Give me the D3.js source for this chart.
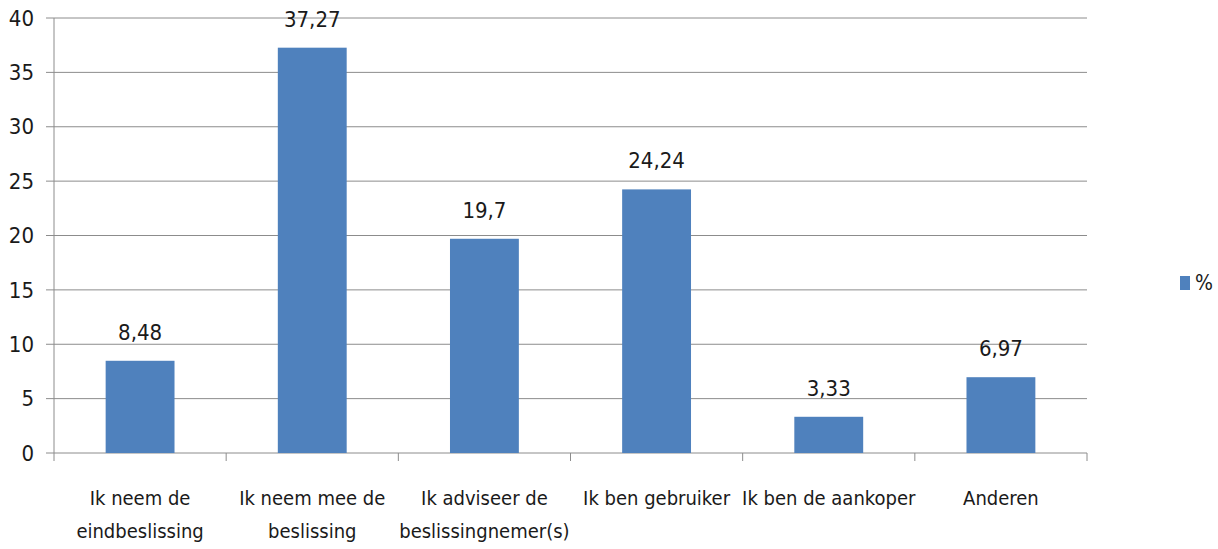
<!DOCTYPE html>
<html>
<head>
<meta charset="utf-8">
<script src="https://cdn.jsdelivr.net/npm/d3@7"></script>
<style>
    body { margin: 0; background: #fff; }
    text { font-family: "Liberation Sans Narrow", "DejaVu Sans Condensed", "Open Sans", sans-serif; fill: #1a1a1a; }
</style>
</head>
<body>
<svg id="chart" width="1218" height="549"></svg>
<script>
// categories, split into the two lines of the axis labels
const categories = [
    ["Ik neem de", "eindbeslissing"],
    ["Ik neem mee de", "beslissing"],
    ["Ik adviseer de", "beslissingnemer(s)"],
    ["Ik ben gebruiker"],
    ["Ik ben de aankoper"],
    ["Anderen"]
];
const values = [8.48, 37.27, 19.7, 24.24, 3.33, 6.97];
const valueLabels = ["8,48", "37,27", "19,7", "24,24", "3,33", "6,97"];
const yTicks = [0, 5, 10, 15, 20, 25, 30, 35, 40];
const seriesName = "%";

const svg = d3.select("#chart");
const plotLeft = 54, plotRight = 1087, plotTop = 18, plotBottom = 453;
const gridColor = "#8c8c8c";
const barColor = "#4f81bd";

let x = d3.scaleBand()
    .domain(d3.range(categories.length))
    .range([plotLeft, plotRight])
    .paddingInner(0.6)
    .paddingOuter(0.3);

let xOuter = d3.scaleBand()
    .domain(d3.range(categories.length))
    .range([plotLeft, plotRight]);

let y = d3.scaleLinear()
    .domain([0, 40])
    .range([plotBottom, plotTop]);

// gridlines
svg.append("g")
    .selectAll("line")
    .data(yTicks)
    .enter()
    .append("line")
    .attr("x1", plotLeft - 8)
    .attr("x2", plotRight)
    .attr("y1", d => y(d))
    .attr("y2", d => y(d))
    .attr("stroke", gridColor)
    .attr("stroke-width", 1);

// y axis line
svg.append("line")
    .attr("x1", plotLeft).attr("x2", plotLeft)
    .attr("y1", plotTop).attr("y2", plotBottom)
    .attr("stroke", gridColor);

// y labels
svg.append("g")
    .selectAll("text")
    .data(yTicks)
    .enter()
    .append("text")
    .attr("x", 34)
    .attr("y", d => y(d))
    .attr("dy", "0.35em")
    .attr("text-anchor", "end")
    .style("font-size", "22px")
    .text(d => d);

// x axis ticks at category boundaries
let boundaries = d3.range(categories.length + 1).map(i => plotLeft + i * xOuter.bandwidth());
svg.append("g")
    .selectAll("line")
    .data(boundaries)
    .enter()
    .append("line")
    .attr("x1", d => d).attr("x2", d => d)
    .attr("y1", plotBottom).attr("y2", plotBottom + 8)
    .attr("stroke", gridColor);

// bars
svg.append("g")
    .selectAll("rect")
    .data(values)
    .enter()
    .append("rect")
    .attr("x", (d, i) => x(i))
    .attr("width", x.bandwidth())
    .attr("y", d => y(d))
    .attr("height", d => plotBottom - y(d))
    .attr("fill", barColor);

// value labels
svg.append("g")
    .selectAll("text")
    .data(values)
    .enter()
    .append("text")
    .attr("x", (d, i) => x(i) + x.bandwidth() / 2)
    .attr("y", d => y(d) - 21)
    .attr("text-anchor", "middle")
    .style("font-size", "22px")
    .text((d, i) => valueLabels[i]);

// category labels
let catG = svg.append("g")
    .selectAll("text")
    .data(categories)
    .enter()
    .append("text")
    .attr("x", (d, i) => xOuter(i) + xOuter.bandwidth() / 2)
    .attr("y", 505)
    .attr("text-anchor", "middle")
    .style("font-size", "20px");
catG.selectAll("tspan")
    .data(d => d)
    .enter()
    .append("tspan")
    .attr("x", function () { return d3.select(this.parentNode).attr("x"); })
    .attr("dy", (d, i) => i === 0 ? 0 : 33)
    .text(d => d);

// legend
svg.append("rect")
    .attr("x", 1180).attr("y", 276)
    .attr("width", 10).attr("height", 14)
    .attr("fill", barColor);
svg.append("text")
    .attr("x", 1195).attr("y", 283)
    .attr("dy", "0.35em")
    .style("font-size", "21px")
    .text(seriesName);
</script>
</body>
</html>
